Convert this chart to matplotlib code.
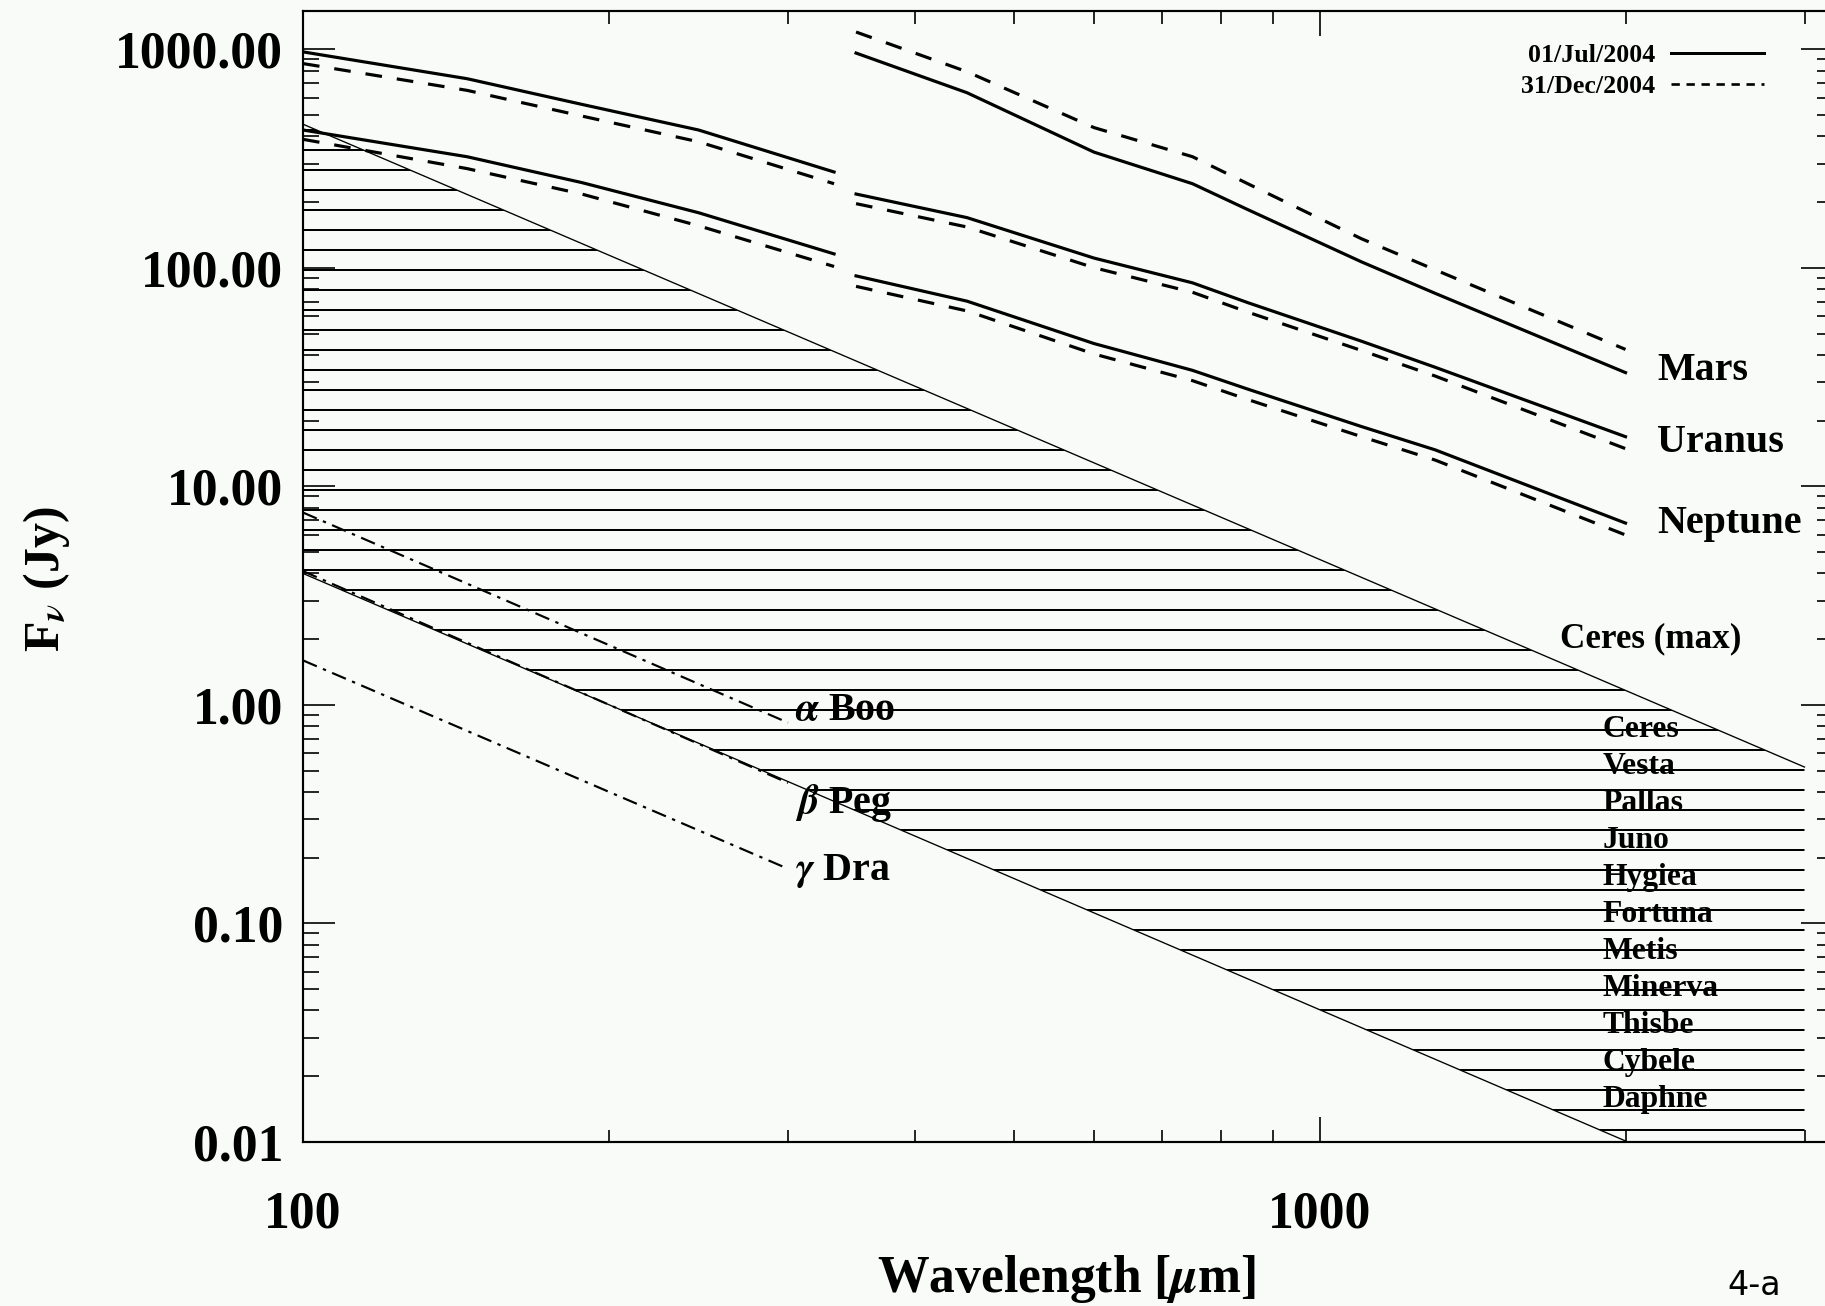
import matplotlib
matplotlib.use('Agg')
import matplotlib.pyplot as plt
from matplotlib.lines import Line2D
from matplotlib.ticker import LogLocator, NullFormatter

plt.rcParams['font.family'] = ['Liberation Serif', 'DejaVu Serif']
plt.rcParams['font.weight'] = 'bold'
plt.rcParams['mathtext.fontset'] = 'stix'
plt.rcParams['hatch.color'] = 'black'
plt.rcParams['hatch.linewidth'] = 1.2
plt.rcParams['lines.scale_dashes'] = False

# short band: only Uranus and Neptune fall inside the plot
wl_short = [100, 145, 188, 245, 333]
uranus_short_jul = [975, 735, 561, 428, 275]
uranus_short_dec = [862, 650, 496, 378, 243]
neptune_short_jul = [428, 323, 246, 179, 116]
neptune_short_dec = [388, 285, 218, 156, 101.6]

# long band
wl_long = [350, 450, 600, 750, 850, 1100, 1300, 2000]
mars_jul = [963, 634, 339, 243, 185, 106.6, 76.5, 33.2]
mars_dec = [1202, 791, 439, 323, 243, 136, 98, 42.4]
uranus_jul = [218, 170, 111, 85.5, 69.4, 46.2, 35.1, 16.9]
uranus_dec = [197, 154, 100.3, 77.4, 62.8, 41.9, 32, 14.9]
neptune_jul = [92, 70.5, 45.1, 34, 27.9, 18.8, 14.7, 6.8]
neptune_dec = [82.4, 63.6, 40.4, 30.5, 25, 16.9, 13.2, 6.0]

# asteroid range (hatched)
wl_band = [100, 3000]
ceres_max = [455, 0.52]
faint_limit = [4.0, 0.0045]
asteroids = ['Ceres', 'Vesta', 'Pallas', 'Juno', 'Hygiea', 'Fortuna',
             'Metis', 'Minerva', 'Thisbe', 'Cybele', 'Daphne']

# stars
wl_star = [100, 300]
alpha_boo = [7.6, 0.83]
beta_peg = [4.1, 0.44]
gamma_dra = [1.6, 0.178]

bg = '#f8fbf8'
fig = plt.figure(figsize=(1825 / 120, 1306 / 120), dpi=120, facecolor=bg)
ax = fig.add_axes([303 / 1825, 1 - 1142 / 1306, 1530 / 1825, 1131 / 1306])
ax.set_facecolor(bg)
ax.set_xscale('log')
ax.set_yscale('log')
ax.set_xlim(100, 3200)
ax.set_ylim(0.01, 1500)

# asteroid band
ax.fill_between(wl_band, faint_limit, ceres_max, facecolor='none',
                edgecolor='black', hatch='-', linewidth=0, zorder=1)
ax.plot(wl_band, ceres_max, color='black', lw=0.8, zorder=2)
ax.plot(wl_band, faint_limit, color='black', lw=0.8, zorder=2)

dash = (0, (10, 9))
sol = dict(color='black', lw=1.9, zorder=3)
for wl, jul, dec in [(wl_short, uranus_short_jul, uranus_short_dec),
                     (wl_short, neptune_short_jul, neptune_short_dec),
                     (wl_long, mars_jul, mars_dec),
                     (wl_long, uranus_jul, uranus_dec),
                     (wl_long, neptune_jul, neptune_dec)]:
    ax.plot(wl, jul, linestyle='-', **sol)
    ax.plot(wl, dec, linestyle=dash, **sol)

dashdot = (0, (9, 4, 2, 4))
for f in [alpha_boo, beta_peg, gamma_dra]:
    ax.plot(wl_star, f, color='black', lw=1.3, linestyle=dashdot, zorder=3)

# labels inside plot
big = dict(fontsize=24, fontweight='bold', va='center', ha='left')
ax.text(2150, 34, 'Mars', **big)
ax.text(2150, 15.9, 'Uranus', **big)
ax.text(2150, 6.8, 'Neptune', **big)
ax.text(305, 0.94, r'$\alpha$ Boo', **big)
ax.text(305, 0.355, r'$\beta$ Peg', **big)
ax.text(305, 0.173, r'$\gamma$ Dra', **big)
ax.text(1726, 2.0, 'Ceres (max)', fontsize=21, fontweight='bold',
        va='center', ha='left')

trans = ax.get_xaxis_transform()
for i, name in enumerate(asteroids):
    ax.text(1900, 0.3643 - i * 0.03271, name, transform=trans, fontsize=19,
            fontweight='bold', va='center', ha='left')

# legend, text first then line sample
handles = [Line2D([], [], color='black', lw=1.8),
           Line2D([], [], color='black', lw=1.6, linestyle=(0, (5, 4)))]
ax.legend(handles, ['01/Jul/2004', '31/Dec/2004'], markerfirst=False,
          frameon=False, loc='upper right',
          bbox_to_anchor=(1764 / 1825, 1 - 44 / 1306),
          bbox_transform=fig.transFigure, borderaxespad=0, borderpad=0,
          handlelength=3.6, handletextpad=0.6, labelspacing=0.3,
          prop={'weight': 'bold', 'size': 15.5})

# axes, ticks
for s in ax.spines.values():
    s.set_linewidth(1.3)
ax.set_yticks([0.01, 0.1, 1, 10, 100, 1000],
              ['0.01', '0.10', '1.00', '10.00', '100.00', '1000.00'])
ax.set_xticks([100, 1000], ['100', '1000'])
ax.xaxis.set_minor_locator(LogLocator(subs=range(2, 10)))
ax.yaxis.set_minor_locator(LogLocator(subs=range(2, 10)))
ax.xaxis.set_minor_formatter(NullFormatter())
ax.yaxis.set_minor_formatter(NullFormatter())
ax.tick_params(which='both', direction='in', top=True, right=True, width=1.0)
ax.tick_params(axis='x', which='major', length=15, pad=29, labelsize=31)
ax.tick_params(axis='x', which='minor', length=7.5)
ax.tick_params(axis='y', which='major', length=19, pad=12, labelsize=31)
ax.tick_params(axis='y', which='minor', length=9.6)

fig.text(47 / 1825, 1 - 579 / 1306, r'F$_\nu$ (Jy)', rotation=90,
         fontsize=30, ha='center', va='center')
fig.text(1067 / 1825, 14 / 1306, r'Wavelength [$\mu$m]', fontsize=31,
         ha='center', va='baseline')
fig.text(1727 / 1825, 11 / 1306, '4-a', family='DejaVu Sans',
         fontweight='normal', fontsize=20, ha='left', va='baseline')

fig.savefig('out.png', dpi=120, facecolor=bg)
